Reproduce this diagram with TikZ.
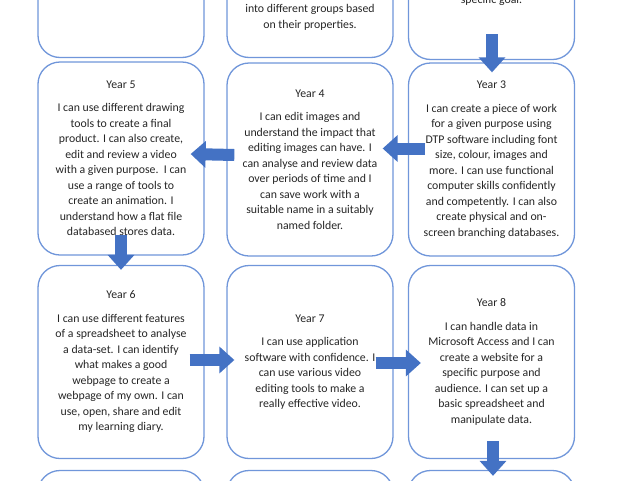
\documentclass[tikz,border=0pt]{standalone}
\usepackage{fontspec}
\setmainfont{Carlito}
\usetikzlibrary{arrows.meta,positioning}
\definecolor{boxblue}{HTML}{7096DA}
\definecolor{arrowblue}{HTML}{4472C4}
\definecolor{txtgrey}{HTML}{262626}
\tikzset{
  card/.style={draw=boxblue, line width=1.3pt, rounded corners=22pt, fill=white,
    minimum width=166pt, minimum height=193pt, align=center, text=txtgrey,
    font=\fontsize{11.8}{15.5}\selectfont, inner sep=0pt},
  txt/.style={text=txtgrey, font=\fontsize{11.8}{15.5}\selectfont, inner sep=0pt},
  blockarrow/.style={draw=arrowblue, line width=12pt, -{Triangle[length=15pt,width=26pt]}},
}
\begin{document}
\begin{tikzpicture}[x=1pt,y=-1pt]
\useasboundingbox (0,0) rectangle (640,480);
\begin{scope}
\clip (0,0) rectangle (640,480);
% row 0 (cut off)
\node[card] (a1) at (121,-39) {};
\node[card] (a2) at (310,-39) {};
\node[card] (a3) at (491.5,-37) {};
\node[txt, anchor=base] (a2t1) at (310,12) {into different groups based};
\node[txt, anchor=base] (a2t2) at (310,28) {on their properties.};
\node[txt, anchor=base] (a3t1) at (491.5,3) {specific goal.};
% row 1
\node[card] (y5) at (121,158.5) {Year 5\\[8pt]
I can use different drawing\\ tools to create a final\\ product. I can also create,\\ edit and review a video\\ with a given purpose.\ \ I can\\ use a range of tools to\\ create an animation. I\\ understand how a flat file\\ databased stores data.};
\node[card] (y4) at (310,159.5) {Year 4\\[8pt]
I can edit images and\\ understand the impact that\\ editing images can have. I\\ can analyse and review data\\ over periods of time and I\\ can save work with a\\ suitable name in a suitably\\ named folder.};
\node[card] (y3) at (491.5,159.5) {Year 3\\[8pt]
I can create a piece of work\\ for a given purpose using\\ DTP software including font\\ size, colour, images and\\ more. I can use functional\\ computer skills confidently\\ and competently. I can also\\ create physical and on-\\ screen branching databases.};
% row 2
\node[card] (y6) at (121,362) {Year 6\\[8pt]
I can use different features\\ of a spreadsheet to analyse\\ a data-set. I can identify\\ what makes a good\\ webpage to create a\\ webpage of my own. I can\\ use, open, share and edit\\ my learning diary.};
\node[card] (y7) at (310,362) {Year 7\\[8pt]
I can use application\\ software with confidence. I\\ can use various video\\ editing tools to make a\\ really effective video.};
\node[card] (y8) at (491.5,362) {Year 8\\[8pt]
I can handle data in\\ Microsoft Access and I can\\ create a website for a\\ specific purpose and\\ audience. I can set up a\\ basic spreadsheet and\\ manipulate data.};
% row 3 (cut off)
\node[card] (b1) at (121,567) {};
\node[card] (b2) at (310,567) {};
\node[card] (b3) at (491.5,567) {};
% arrows
\draw[blockarrow] ([xshift=0.5pt,yshift=26pt]a3.south) -- ([xshift=0.5pt,yshift=-10pt]y3.north);
\draw[blockarrow] ([xshift=17pt,yshift=11pt]y3.west) -- ([xshift=-11pt,yshift=11pt]y4.east);
\draw[blockarrow] ([xshift=8pt,yshift=4.5pt]y4.west) -- ([xshift=-14pt,yshift=4.5pt]y5.east);
\draw[blockarrow] ([yshift=21pt]y5.south) -- ([yshift=-5pt]y6.north);
\draw[blockarrow] ([xshift=-15pt,yshift=2pt]y6.east) -- ([xshift=8pt,yshift=2pt]y7.west);
\draw[blockarrow] ([xshift=-18pt,yshift=-1pt]y7.east) -- ([xshift=13pt,yshift=-1pt]y8.west);
\draw[blockarrow] ([xshift=1.5pt,yshift=18pt]y8.south) -- ([xshift=1.5pt,yshift=-6pt]b3.north);
\end{scope}
\end{tikzpicture}
\end{document}
